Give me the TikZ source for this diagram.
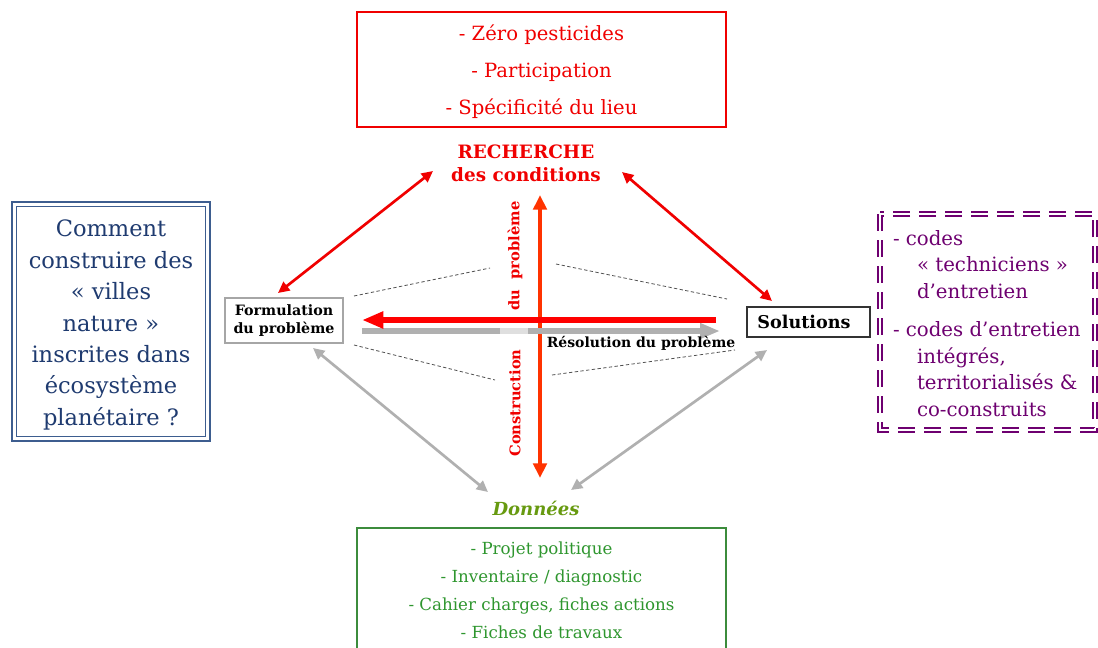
\documentclass[tikz,border=0pt]{standalone}
\usepackage{fontspec}
\setmainfont{DejaVu Serif}
\usetikzlibrary{arrows.meta}
\definecolor{topred}{HTML}{F00000}
\definecolor{vertred}{HTML}{FF3300}
\definecolor{qblue}{HTML}{1F3B70}
\definecolor{qborder}{HTML}{3D5D8F}
\definecolor{solpurple}{HTML}{6E0070}
\definecolor{datagreen}{HTML}{2E962E}
\definecolor{databorder}{HTML}{3C8C3C}
\definecolor{donnees}{HTML}{679A10}
\definecolor{arrgray}{HTML}{B0B0B0}
\definecolor{dashgray}{HTML}{505050}
\tikzset{
  redarr/.style={draw=topred, line width=2pt, {Triangle[length=8.5pt,width=8pt]}-{Triangle[length=8.5pt,width=8pt]}},
  grayarr/.style={draw=arrgray, line width=2pt, {Triangle[length=8.5pt,width=8pt]}-{Triangle[length=8.5pt,width=8pt]}},
  thindash/.style={draw=dashgray, line width=0.6pt, dash pattern=on 2.5pt off 1.8pt},
  plain/.style={inner sep=0pt, outer sep=0pt},
}
\begin{document}
\begin{tikzpicture}[x=0.75pt,y=-0.75pt]
\clip (0,0) rectangle (1098,647);
\fill[white] (0,0) rectangle (1098,647);

% top box
\node[plain, draw=topred, line width=0.8pt, minimum width=276.75pt, minimum height=86.25pt] (topbox) at (541.5,69.5) {};
\node[plain, text=topred, align=center, font={\fontsize{14.7}{27.75}\selectfont}] (toptext) at (541.5,72) {- Zéro pesticides\\- Participation\\- Spécificité du lieu};

% recherche
\node[plain, text=topred, align=center, font={\fontsize{13.8}{17.25}\selectfont\bfseries}] (rech) at (526,163) {RECHERCHE\\des conditions};

% left question box
\node[plain, draw=qborder, line width=2.2pt, minimum width=148.5pt, minimum height=179.25pt] (qbox) at (111,321.5) {};
\node[plain, draw=qborder, line width=0.7pt, minimum width=142pt, minimum height=172.5pt] (qboxin) at (111,321.5) {};
\node[plain, text=qblue, align=center, font={\fontsize{16.9}{23.6}\selectfont}] (qtext) at (111,325) {Comment\\construire des\\«~villes\\nature~»\\inscrites dans\\écosystème\\planétaire~?};

% formulation box
\node[plain, draw=gray!70, line width=0.8pt, minimum width=88.5pt, minimum height=33.75pt] (form) at (284,320.5) {};
\node[plain, align=center, font={\fontsize{10.7}{13.5}\selectfont\bfseries}] (formtext) at (284,321) {Formulation\\du problème};

% solutions box
\node[plain, draw=black!80, line width=0.8pt, minimum width=92.25pt, minimum height=22.5pt] (sol) at (808.5,322) {};
\node[plain, font={\fontsize{13.2}{15}\selectfont\bfseries}] (soltitle) at (804,322) {Solutions};

% right dashed box
\draw[draw=solpurple, line width=0.9pt, double=white, double distance=2pt, dash pattern=on 13pt off 6.5pt] (880,214) rectangle (1095,430);
\node[plain, text=solpurple, align=left, anchor=west, font={\fontsize{14.8}{20}\selectfont}] (soltext) at (893,323.5) {- codes\\\hspace*{18pt}«~techniciens~»\\\hspace*{18pt}d’entretien\\[8.5pt]- codes d’entretien\\\hspace*{18pt}intégrés,\\\hspace*{18pt}territorialisés \&\\\hspace*{18pt}co-construits};

% bottom box
\node[plain, draw=databorder, line width=0.8pt, minimum width=276.75pt, minimum height=100pt, anchor=north] (botbox) at (541.5,528) {};
\node[plain, text=datagreen, align=center, font={\fontsize{12.5}{21}\selectfont}] (bottext) at (541.5,590) {- Projet politique\\- Inventaire / diagnostic\\- Cahier charges, fiches actions\\- Fiches de travaux};

% donnees
\node[plain, text=donnees, font={\fontsize{13.5}{16}\selectfont\bfseries\itshape}] (donn) at (536,508) {Données};

% coordinates
\coordinate (vt) at (540,195);
\coordinate (vb) at (540,478);
\coordinate (hrR) at (716,320);
\coordinate (hrL) at (362,320);
\coordinate (hgL) at (362,331);
\coordinate (hgR) at (720,331);
\coordinate (lg1) at (500,331);
\coordinate (lg2) at (528,331);
\coordinate (r1a) at (433,171);
\coordinate (r1b) at (278,293);
\coordinate (r2a) at (622,172);
\coordinate (r2b) at (772,301);
\coordinate (g1a) at (313,348);
\coordinate (g1b) at (488,492);
\coordinate (g2a) at (767,350);
\coordinate (g2b) at (571,490);
\coordinate (d1a) at (354,296);
\coordinate (d1b) at (490,268);
\coordinate (d2a) at (556,264);
\coordinate (d2b) at (727,299);
\coordinate (d3a) at (354,345);
\coordinate (d3b) at (495,380);
\coordinate (d4a) at (552,375);
\coordinate (d4b) at (735,350);

% dashed thin lines
\draw[thindash] (d1a) -- (d1b);
\draw[thindash] (d2a) -- (d2b);
\draw[thindash] (d3a) -- (d3b);
\draw[thindash] (d4a) -- (d4b);

% vertical arrow
\draw[draw=vertred, line width=3pt, {Triangle[length=11pt,width=10pt]}-{Triangle[length=11pt,width=10pt]}] (vt) -- (vb);

% horizontal arrows
\draw[draw=arrgray, line width=4pt, -{Triangle[length=15pt,width=11pt]}] (hgL) -- (hgR);
\draw[draw=gray!25, line width=4pt] (lg1) -- (lg2);
\draw[draw=red, line width=4.5pt, -{Triangle[length=16pt,width=12pt]}] (hrR) -- (hrL);

% diagonal arrows
\draw[redarr] (r1a) -- (r1b);
\draw[redarr] (r2a) -- (r2b);
\draw[grayarr] (g1a) -- (g1b);
\draw[grayarr] (g2a) -- (g2b);

% labels
\node[plain, font={\fontsize{10.5}{13}\selectfont\bfseries}] (resol) at (641,343) {Résolution du problème};
\node[plain, text=topred, rotate=90, font={\fontsize{11}{13}\selectfont\bfseries}] (dupb) at (515,256) {du\ \ problème};
\node[plain, text=topred, rotate=90, font={\fontsize{11}{13}\selectfont\bfseries}] (constr) at (515,403) {Construction};
\end{tikzpicture}
\end{document}
